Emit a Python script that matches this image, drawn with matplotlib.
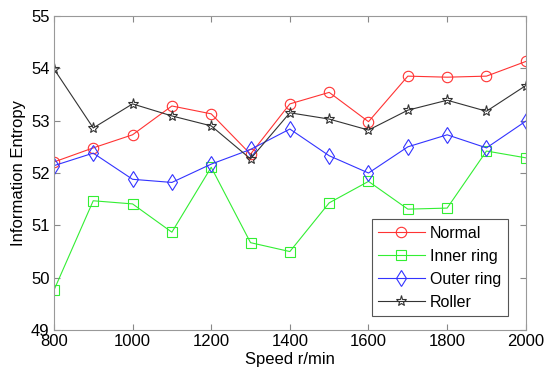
import numpy as np
import matplotlib
matplotlib.use('Agg')
import matplotlib.pyplot as plt

plt.rcParams['font.family'] = ['Liberation Sans', 'DejaVu Sans']

speed = [800, 900, 1000, 1100, 1200, 1300, 1400, 1500, 1600, 1700, 1800, 1900, 2000]
normal = [52.21, 52.48, 52.73, 53.28, 53.13, 52.36, 53.32, 53.54, 52.98, 53.85, 53.83, 53.85, 54.13]
inner = [49.76, 51.47, 51.41, 50.87, 52.11, 50.67, 50.50, 51.43, 51.84, 51.31, 51.33, 52.42, 52.29]
outer = [52.14, 52.38, 51.88, 51.82, 52.17, 52.45, 52.84, 52.33, 52.00, 52.50, 52.73, 52.48, 52.99]
roller = [53.99, 52.86, 53.32, 53.09, 52.90, 52.27, 53.15, 53.03, 52.82, 53.20, 53.39, 53.18, 53.67]

fig = plt.figure(figsize=(5.5, 3.79), dpi=100)
ax = fig.add_axes([0.098, 0.129, 0.858, 0.829])

ax.plot(speed, normal, color='#ff3333', lw=0.8, marker='o', ms=7.5, mfc='none', mew=0.8, label='Normal')
ax.plot(speed, inner, color='#33ee33', lw=0.8, marker='s', ms=7.5, mfc='none', mew=0.8, label='Inner ring')
ax.plot(speed, outer, color='#3333ff', lw=0.8, marker='d', ms=8, mfc='none', mew=0.8, label='Outer ring')
ax.plot(speed, roller, color='#333333', lw=0.8, marker='*', ms=8, mfc='none', mew=0.8, label='Roller')

ax.set_xlim(800, 2000)
ax.set_ylim(49, 55)
ax.set_xticks(np.arange(800, 2001, 200))
ax.set_yticks(np.arange(49, 56, 1))
ax.tick_params(direction='in', top=True, right=True, labelsize=12, color='#888888', length=4, pad=3)
for s in ax.spines.values():
    s.set_color('#999999')

ax.set_xlabel('Speed r/min', fontsize=12, labelpad=2)
ax.set_ylabel('Information Entropy', fontsize=12, labelpad=4)

leg = ax.legend(loc='lower right', bbox_to_anchor=(0.962, 0.045), borderaxespad=0, fontsize=11.5,
                fancybox=False, edgecolor='#555555', framealpha=1, handlelength=2.9,
                handletextpad=0.35, borderpad=0.4, labelspacing=0.5)
leg.get_frame().set_linewidth(0.8)

fig.savefig('out.png', dpi=100)
